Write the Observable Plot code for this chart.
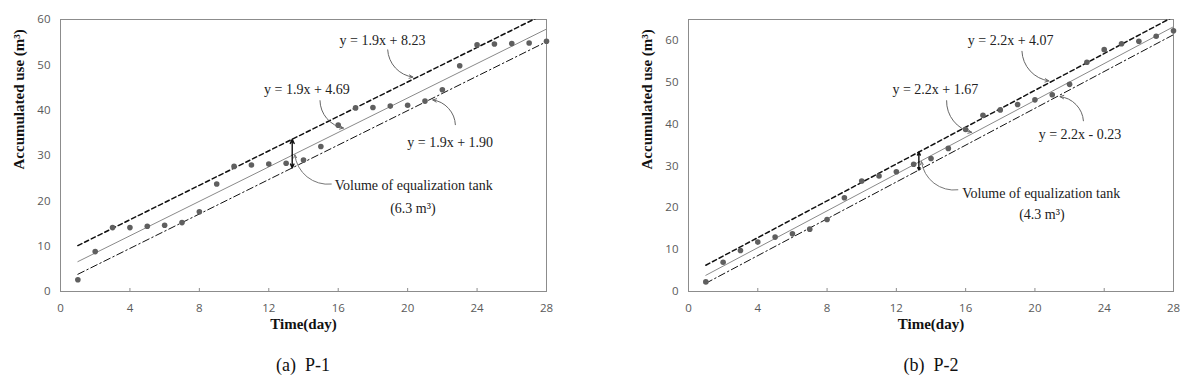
<!DOCTYPE html>
<html><head><meta charset="utf-8">
<script src="https://cdn.jsdelivr.net/npm/d3@7"></script>
<script src="https://cdn.jsdelivr.net/npm/@observablehq/plot@0.6"></script>
<style>
body{margin:0;background:#fff;}
#wrap{position:relative;width:1189px;height:388px;background:#fff;}
.panel{position:absolute;top:0;}
.cap{position:absolute;top:356px;font-family:"Liberation Serif",serif;font-size:18px;color:#111;white-space:pre;transform:translateX(-50%);line-height:1;}
</style></head><body>
<div id="wrap"></div>
<script>
// ---- data ----
const days = [1,2,3,4,5,6,7,8,9,10,11,12,13,14,15,16,17,18,19,20,21,22,23,24,25,26,27,28];
const p1Values = [2.6,8.8,14.1,14.1,14.4,14.6,15.2,17.6,23.7,27.6,27.9,28.1,28.3,29.0,32.0,36.7,40.5,40.6,40.9,41.1,42.0,44.5,49.8,54.4,54.6,54.7,54.8,55.2];
const p2Values = [2.3,7.0,9.8,11.8,13.0,13.8,14.9,17.2,22.4,26.4,27.6,28.6,30.4,31.8,34.2,38.7,42.1,43.4,44.7,45.8,47.0,49.5,54.8,57.8,59.2,59.8,61.0,62.3];
const p1Slope = 1.9, p1Intercepts = [8.23, 4.69, 1.90];
const p2Slope = 2.2, p2Intercepts = [4.07, 1.67, -0.23];
const xTicks = [0,4,8,12,16,20,24,28];
const p1YTicks = [0,10,20,30,40,50,60];
const p2YTicks = [0,10,20,30,40,50,60];
const p1Labels = [
  {text:"y = 1.9x + 8.23", tx:18.55, ty:55.4, x1:18.85, y1:53.3, x2:20.3, line:0, off:0.5},
  {text:"y = 1.9x + 4.69", tx:14.2, ty:44.6, x1:14.95, y1:42.1, x2:16.3, line:1, off:0.4},
  {text:"y = 1.9x + 1.90", tx:22.45, ty:32.8, x1:22.75, y1:36.8, x2:21.45, line:2, off:-0.4}
];
const p2Labels = [
  {text:"y = 2.2x + 4.07", tx:18.6, ty:60.0, x1:19.25, y1:57.4, x2:20.8, line:0, off:0.5},
  {text:"y = 2.2x + 1.67", tx:14.25, ty:48.2, x1:14.9, y1:45.6, x2:16.35, line:1, off:0.4},
  {text:"y = 2.2x - 0.23", tx:22.6, ty:37.6, x1:22.8, y1:40.8, x2:21.45, line:2, off:-0.4}
];
const p1Tank = {day:13.35, tx:15.8, ty:23.3, cx:20.3, cy:18.2, lx:15.6, ly:23.7, text:"Volume of equalization tank", vol:"(6.3 m³)"};
const p2Tank = {day:13.3, tx:15.8, ty:23.5, cx:20.4, cy:18.4, lx:15.55, ly:24.3, text:"Volume of equalization tank", vol:"(4.3 m³)"};

const serif = '"Liberation Serif", "Times New Roman", serif';

function panel({values, slope, intercepts, yMax, yTicks, labels, tank, marginLeft, marginRight, width}) {
  const pts = days.map((d,i)=>({day:d, v:values[i]}));
  const f = (b,x)=>slope*x+b;
  const styles = [
    {stroke:"#111", strokeWidth:1.5, strokeDasharray:"4.5,3"},
    {stroke:"#8a8a8a", strokeWidth:1},
    {stroke:"#111", strokeWidth:1, strokeDasharray:"7,3,1.5,3"}
  ];
  const ends = [days[0], days[days.length-1]];
  const lineMarks = intercepts.map((b,i)=>Plot.line(ends.map(x=>({x, y:f(b,x)})), {x:"x", y:"y", clip:true, ...styles[i]}));
  const arrows = labels.map(l=>({...l, y2: f(intercepts[l.line], l.x2) + l.off}));
  const tTop = f(intercepts[0], tank.day), tMid = f(intercepts[1], tank.day), tBot = f(intercepts[2], tank.day);
  const frameH = 340 - 19 - 49;
  return Plot.plot({
    width, height:340,
    marginTop:19, marginBottom:49, marginLeft, marginRight,
    style:{fontFamily:'"Open Sans", sans-serif', fontSize:"11.5px", color:"#595959", background:"#fff"},
    x:{domain:[0,28]},
    y:{domain:[0,yMax]},
    marks:[
      Plot.axisX({ticks:xTicks, tickSize:0, tickPadding:12, label:null}),
      Plot.tickX(xTicks.slice(1,-1), {x:d=>d, stroke:"#8c8c8c", insetTop:frameH-3}),
      Plot.axisY({ticks:yTicks, tickSize:0, tickPadding:10, label:null}),
      Plot.text(["Time(day)"], {text:d=>d, frameAnchor:"bottom", dy:37, fontFamily:serif, fontWeight:"bold", fontSize:15, fill:"#111"}),
      Plot.text(["Accumulated use (m³)"], {text:d=>d, frameAnchor:"left", rotate:-90, dx:-41, dy:14, fontFamily:serif, fontWeight:"bold", fontSize:15, fill:"#111"}),
      Plot.frame({stroke:"#8c8c8c"}),
      ...lineMarks,
      Plot.dot(pts, {x:"day", y:"v", r:2.8, fill:"#5f5f5f", stroke:"none"}),
      Plot.arrow(arrows, {x1:"x1", y1:"y1", x2:"x2", y2:"y2", bend:-40, stroke:"#666", strokeWidth:1, headLength:6, headAngle:50}),
      Plot.text(labels, {x:"tx", y:"ty", text:"text", fontFamily:serif, fontSize:14, fill:"#222"}),
      Plot.arrow([{y:tTop},{y:tBot}], {x1:tank.day, y1:tMid, x2:tank.day, y2:"y", stroke:"#111", strokeWidth:1.4, headLength:5, headAngle:50}),
      Plot.arrow([tank], {x1:"lx", y1:"ly", x2:d=>d.day+0.15, y2:tMid+0.1, bend:45, stroke:"#777", strokeWidth:1, headLength:5, headAngle:50}),
      Plot.text([tank], {x:"tx", y:"ty", text:"text", textAnchor:"start", fontFamily:serif, fontSize:14, fill:"#222"}),
      Plot.text([tank], {x:"cx", y:"cy", text:"vol", fontFamily:serif, fontSize:14, fill:"#222"})
    ]
  });
}

const wrap = document.getElementById("wrap");
function addPanel(left, chart, capText, capX) {
  const d = document.createElement("div");
  d.className = "panel"; d.style.left = left + "px";
  d.appendChild(chart);
  wrap.appendChild(d);
  const c = document.createElement("div");
  c.className = "cap"; c.style.left = capX + "px"; c.textContent = capText;
  wrap.appendChild(c);
}
addPanel(0, panel({values:p1Values, slope:p1Slope, intercepts:p1Intercepts, yMax:60, yTicks:p1YTicks, labels:p1Labels, tank:p1Tank, marginLeft:60, marginRight:48, width:594}), "(a)  P-1", 303);
addPanel(594, panel({values:p2Values, slope:p2Slope, intercepts:p2Intercepts, yMax:65, yTicks:p2YTicks, labels:p2Labels, tank:p2Tank, marginLeft:94, marginRight:16, width:595}), "(b)  P-2", 931);
</script>
</body></html>
